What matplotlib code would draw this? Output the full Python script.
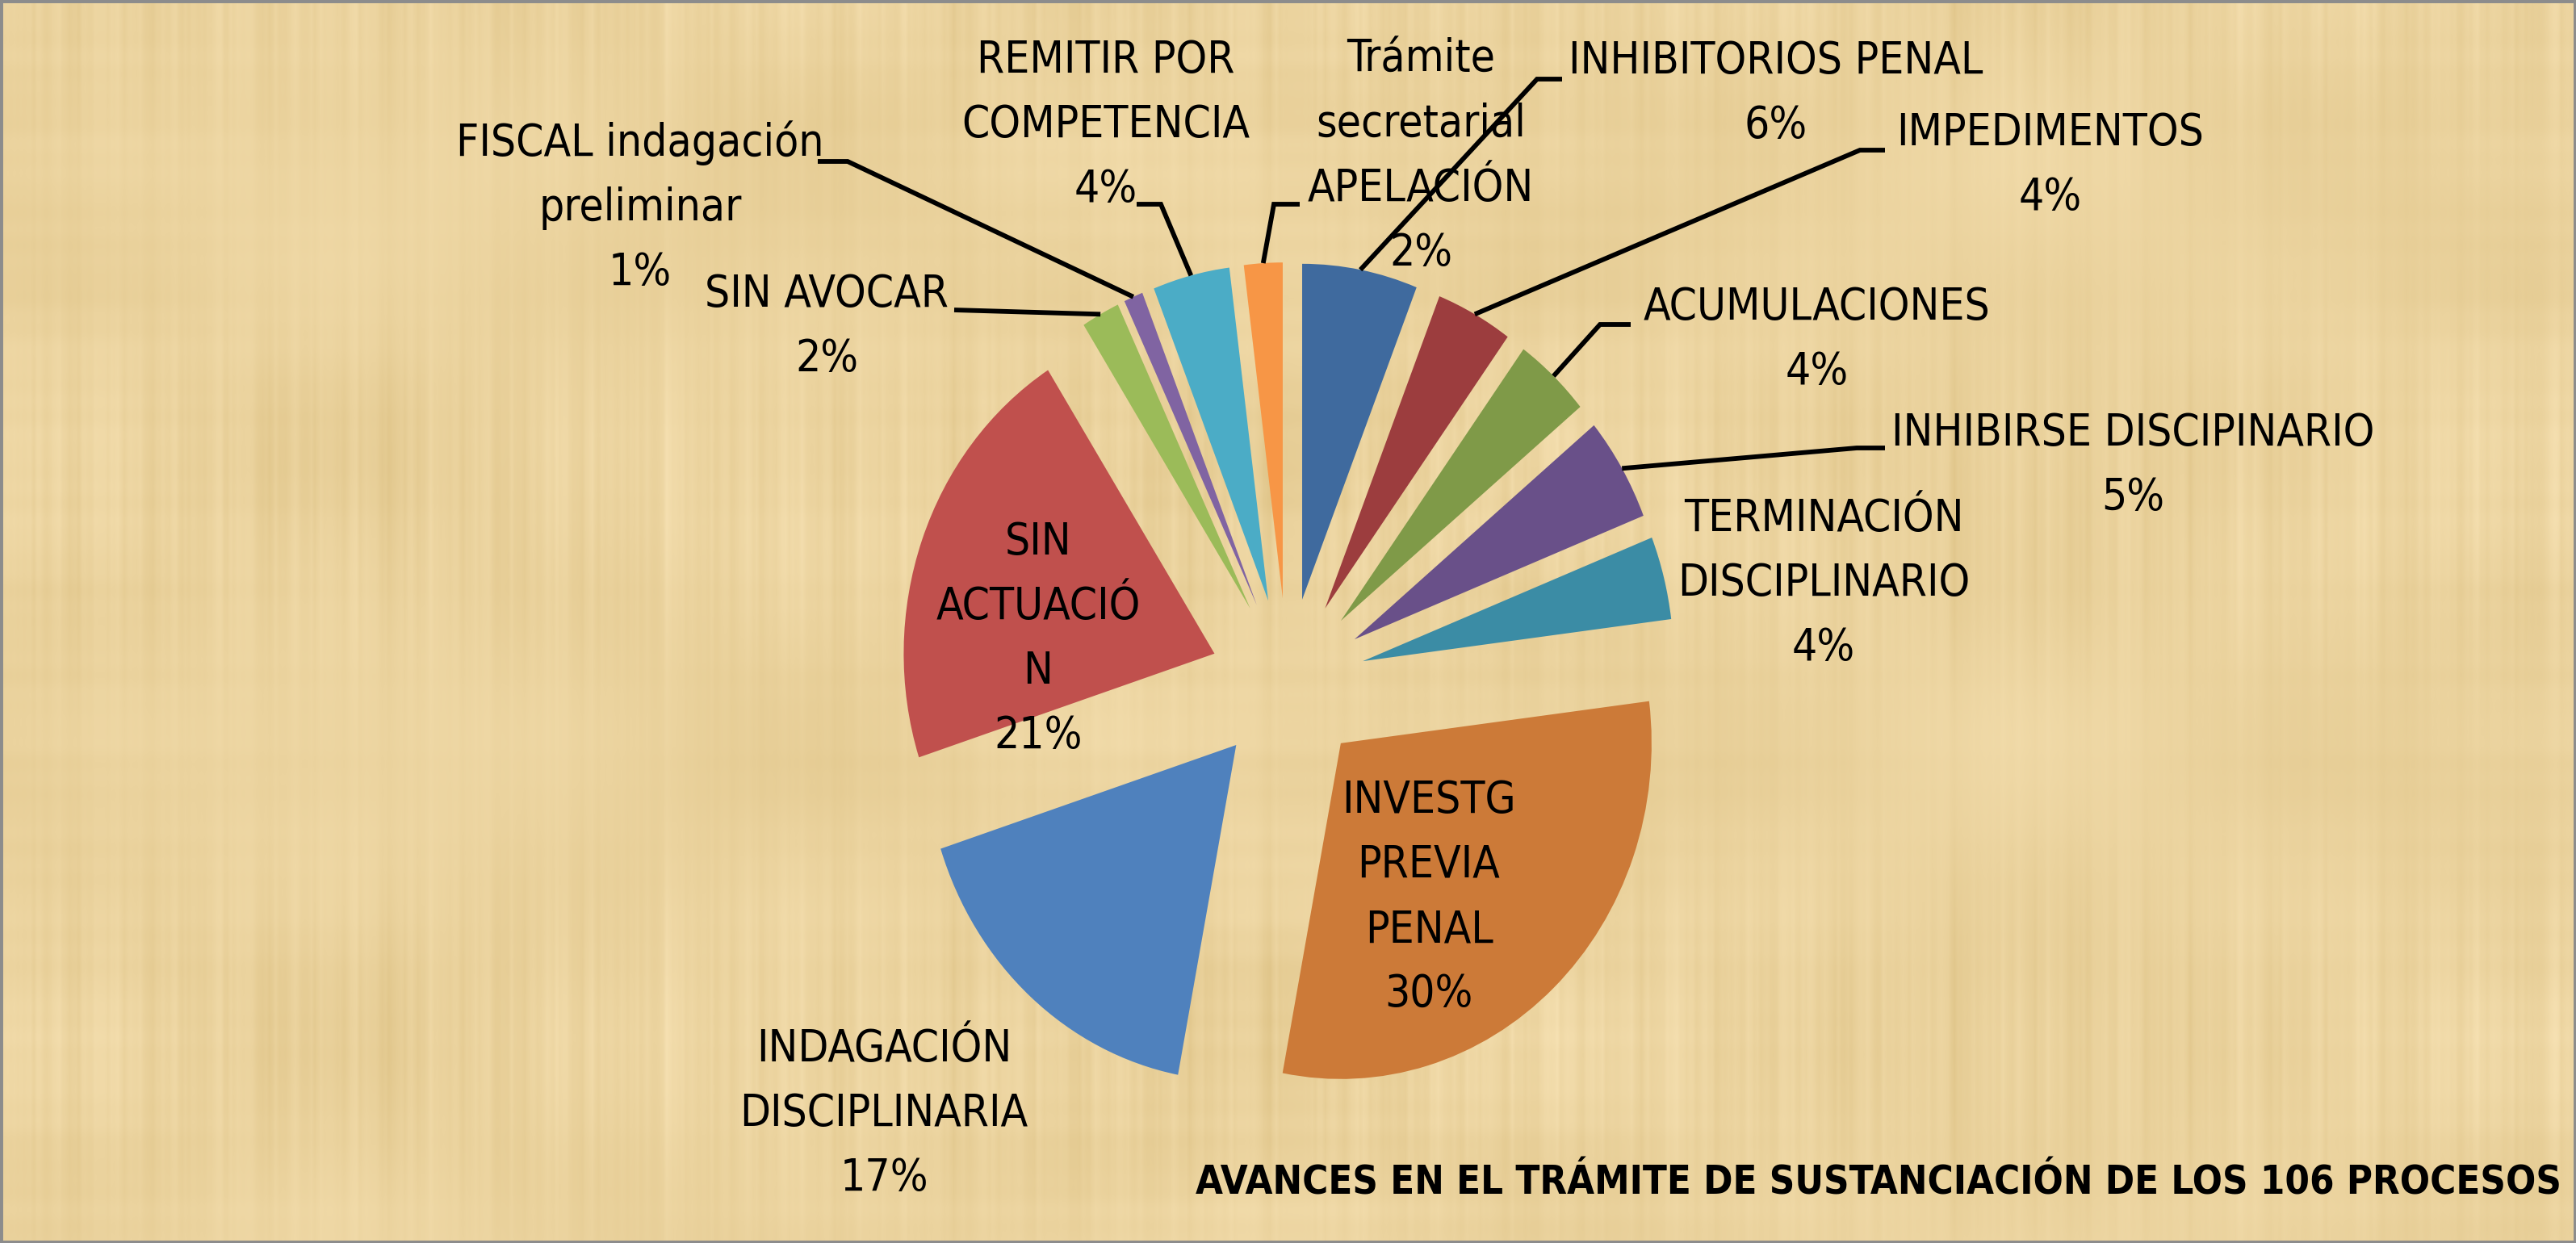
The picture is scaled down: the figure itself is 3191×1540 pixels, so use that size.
import os
import numpy as np
import matplotlib
matplotlib.use("Agg")
import matplotlib.pyplot as plt
from matplotlib import font_manager
from matplotlib.font_manager import FontProperties
from matplotlib.patches import Rectangle

# ---------------- data ----------------
categories = ["INHIBITORIOS PENAL", "IMPEDIMENTOS", "ACUMULACIONES",
              "INHIBIRSE DISCIPINARIO", "TERMINACIÓN DISCIPLINARIO",
              "INVESTG PREVIA PENAL", "INDAGACIÓN DISCIPLINARIA",
              "SIN ACTUACIÓN", "SIN AVOCAR", "FISCAL indagación preliminar",
              "REMITIR POR COMPETENCIA", "Trámite secretarial APELACIÓN"]
percentages = [6, 4, 4, 5, 4, 30, 17, 21, 2, 1, 4, 2]
display_labels = ["INHIBITORIOS PENAL", "IMPEDIMENTOS", "ACUMULACIONES",
                  "INHIBIRSE DISCIPINARIO", "TERMINACIÓN\nDISCIPLINARIO",
                  "INVESTG\nPREVIA\nPENAL", "INDAGACIÓN\nDISCIPLINARIA",
                  "SIN\nACTUACIÓ\nN", "SIN AVOCAR", "FISCAL indagación\npreliminar",
                  "REMITIR POR\nCOMPETENCIA", "Trámite\nsecretarial\nAPELACIÓN"]
colors = ["#3F6A9E", "#9C3D3E", "#7F9A48", "#695089", "#3B8CA5", "#CC7A38",
          "#4F81BD", "#C0504D", "#9BBB59", "#8064A2", "#4BACC6", "#F79646"]
title = "AVANCES EN EL TRÁMITE DE SUSTANCIACIÓN DE LOS 106 PROCESOS"

# ---------------- fonts (prefer a narrow face, like the original) ----------------
def find_font(exact, bold):
    files = [f for f in font_manager.fontManager.ttflist]
    for name in exact:
        for f in files:
            if os.path.basename(f.fname).lower() == name.lower():
                return FontProperties(fname=f.fname)
    for f in files:
        b = os.path.basename(f.fname).lower()
        if ("narrow" in b or "condensed" in b) and ("italic" not in b) and ("oblique" not in b):
            isbold = "bold" in b
            if isbold == bold and "semi" not in b and "light" not in b and "extra" not in b \
                    and "black" not in b and "medium" not in b and "thin" not in b:
                return FontProperties(fname=f.fname)
    return FontProperties(family="Liberation Sans", weight="bold" if bold else "normal")

PROP = find_font(["LiberationSansNarrow-Regular.ttf", "DejaVuSansCondensed.ttf",
                  "RobotoCondensed-Regular.ttf"], False)
PROPB = find_font(["LiberationSansNarrow-Bold.ttf", "DejaVuSansCondensed-Bold.ttf",
                   "RobotoCondensed-Bold.ttf"], True)

W_PX, H_PX = 3191, 1540
fig = plt.figure(figsize=(W_PX / 100, H_PX / 100), dpi=100)
renderer = fig.canvas.get_renderer()


def metrics(s, prop, size):
    p = prop.copy()
    p.set_size(size)
    return renderer.get_text_width_height_descent(s, p, ismath=False)


# size the label font so that "INHIBITORIOS PENAL" is ~513 px wide
w10 = metrics("INHIBITORIOS PENAL", PROP, 10)[0]
FS = 10 * 513.0 / w10
_, lh, ld = metrics("lp", PROP, FS)
LS = 0.873 * 78.0 / (lh - ld)
wt10 = metrics(title, PROPB, 10)[0]
FST = 10 * 1683.0 / wt10

# ---------------- papyrus-like background (deterministic) ----------------
Hs, Ws = 385, 798
xs = np.linspace(0, 1, Ws)
ys = np.linspace(0, 1, Hs)
X, Y = np.meshgrid(xs, ys)
fib = np.zeros_like(X)
for k, f in enumerate([23, 41, 67, 97, 131, 173, 229, 283, 347]):
    fib += np.cos(2 * np.pi * f * X + 1.7 * k) / (1 + 0.12 * k)
fib *= (0.65 + 0.35 * np.cos(2 * np.pi * 2.3 * Y + 0.5))
hb = np.zeros_like(Y)
for k, f in enumerate([7, 13, 29, 43]):
    hb += np.cos(2 * np.pi * f * Y + 2.3 * k) / (1 + 0.3 * k)
hb *= (0.6 + 0.4 * np.cos(2 * np.pi * 1.7 * X + 0.9))
blot = (np.cos(2 * np.pi * 3.1 * X + 0.4) * np.cos(2 * np.pi * 2.2 * Y + 1.1)
        + 0.6 * np.cos(2 * np.pi * 5.3 * X + 2.0) * np.cos(2 * np.pi * 4.1 * Y + 0.3))
t = 0.55 * fib / 4 + 0.2 * hb / 2.5 + 0.35 * blot / 1.6
t = np.clip(t, -1, 1)
base = np.array([235, 211, 158]) / 255.0
amp = np.array([12, 15, 22]) / 255.0
tex = np.clip(base[None, None, :] + t[..., None] * amp[None, None, :], 0, 1)

ax_bg = fig.add_axes([0, 0, 1, 1], zorder=0)
ax_bg.imshow(tex, aspect="auto", interpolation="bilinear", extent=[0, 1, 0, 1])
ax_bg.set_xlim(0, 1)
ax_bg.set_ylim(0, 1)
ax_bg.axis("off")

# ---------------- pie ----------------
CX, CY = 1595.0, 845.0       # pie centre in pixels
RX, RY = 385.0, 416.0         # pixels per data unit (chart is squeezed horizontally)

ax = fig.add_axes([0, 0, 1, 1], zorder=1)
ax.patch.set_alpha(0)
wedges, _ = ax.pie(percentages, explode=[0.25] * len(percentages), colors=colors,
                   startangle=90, counterclock=False, radius=1.0,
                   wedgeprops=dict(linewidth=0))
ax.set_aspect("auto")
ax.set_xlim(-CX / RX, (W_PX - CX) / RX)
ax.set_ylim((CY - H_PX) / RY, CY / RY)
ax.axis("off")


def p2d(px, py):
    return ((px - CX) / RX, (CY - py) / RY)


# label block centres (pixels) and leader-line elbows (pixels)
label_pos = {
    0: (2200, 116), 1: (2540, 205), 2: (2251, 421), 3: (2642, 577),
    4: (2259, 723), 5: (1770, 1112), 6: (1095, 1380), 7: (1286, 792),
    8: (1024, 405), 9: (793, 257), 10: (1370, 155), 11: (1760, 194),
}
elbows = {
    0: [(1904, 98), (1935, 98)],
    1: [(2304, 186), (2335, 186)],
    2: [(1982, 402), (2020, 402)],
    3: [(2300, 555), (2335, 555)],
    8: [(1182, 384)],
    9: [(1050, 200), (1013, 200)],
    10: [(1438, 253), (1408, 253)],
    11: [(1578, 253), (1610, 253)],
}

for i, w in enumerate(wedges):
    mid = np.deg2rad((w.theta1 + w.theta2) / 2.0)
    cx, cy = w.center
    sx, sy = cx + w.r * np.cos(mid), cy + w.r * np.sin(mid)
    if i in elbows:
        pts = [(sx, sy)] + [p2d(*p) for p in elbows[i]]
        ax.plot([p[0] for p in pts], [p[1] for p in pts], color="black",
                lw=4.2, solid_capstyle="butt", solid_joinstyle="miter", zorder=3)
    lx, ly = p2d(*label_pos[i])
    p = PROP.copy()
    p.set_size(FS)
    ax.text(lx, ly, f"{display_labels[i]}\n{percentages[i]}%", ha="center",
            va="center", multialignment="center", fontproperties=p,
            linespacing=LS, color="black", zorder=4)

pt = PROPB.copy()
pt.set_size(FST)
pt.set_weight("bold")
lx, ly = p2d(2327, 1465)
ax.text(lx, ly, title, ha="center", va="center", fontproperties=pt,
        color="black", zorder=4)

# grey frame
fig.patches.append(Rectangle((0, 0), 1, 1, transform=fig.transFigure, fill=False,
                             edgecolor="#8C8C8C", linewidth=5, zorder=10))

fig.savefig("out.png", dpi=100)
